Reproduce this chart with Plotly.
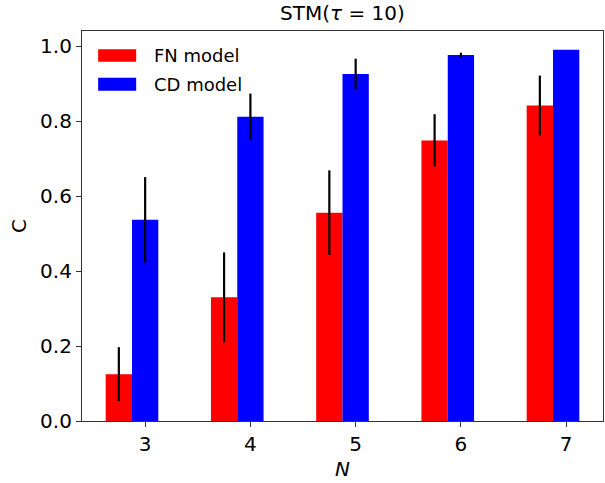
import plotly.graph_objects as go

N = [3, 4, 5, 6, 7]
fn_mean = [0.125, 0.330, 0.556, 0.749, 0.842]
fn_err = [0.072, 0.120, 0.113, 0.070, 0.080]
cd_mean = [0.537, 0.812, 0.926, 0.977, 0.991]
cd_err = [0.114, 0.062, 0.041, 0.006, 0.0]
series_names = ["FN model", "CD model"]
series_colors = ["#ff0000", "#0000ff"]

FONT = "DejaVu Sans"

fig = go.Figure()
fig.add_trace(go.Bar(
    x=N, y=fn_mean, name=series_names[0], marker=dict(color=series_colors[0], line=dict(width=0)),
    width=0.25, offset=-0.375,
    error_y=dict(type="data", array=fn_err, color="black", thickness=2.2, width=0),
))
fig.add_trace(go.Bar(
    x=N, y=cd_mean, name=series_names[1], marker=dict(color=series_colors[1], line=dict(width=0)),
    width=0.25, offset=-0.125,
    error_y=dict(type="data", array=cd_err, color="black", thickness=2.2, width=0),
))

axis_common = dict(
    showline=True, linecolor="#333333", linewidth=1.2, mirror=True,
    ticks="outside", ticklen=5, tickcolor="#333333", tickwidth=1.2,
    showgrid=False, zeroline=False,
    tickfont=dict(family=FONT, size=20, color="black"),
)

# custom matplotlib-like legend (wide patches)
leg_rows = [(0.953, 0.921), (0.880, 0.847)]
for (y1, y0), name, col in zip(leg_rows, series_names, series_colors):
    fig.add_shape(type="rect", xref="paper", yref="paper", x0=0.031, x1=0.104, y0=y0, y1=y1,
                  fillcolor=col, line=dict(width=0))
    fig.add_annotation(xref="paper", yref="paper", x=0.134, y=(y0 + y1) / 2, text=name,
                       showarrow=False, xanchor="left", yanchor="middle",
                       font=dict(family=FONT, size=18, color="black"))

fig.update_layout(
    width=605, height=483,
    margin=dict(l=82, r=2, t=31, b=62),
    plot_bgcolor="white", paper_bgcolor="white",
    font=dict(family=FONT, color="black"),
    title=dict(text="STM(<i>τ</i> = 10)", x=0.566, xanchor="center", y=0.974, yanchor="middle",
               font=dict(family=FONT, size=20, color="black")),
    xaxis=dict(range=[2.4, 7.35], tickvals=N, ticktext=[str(n) for n in N],
               title=dict(text="<i>N</i>", font=dict(family=FONT, size=20), standoff=6),
               **axis_common),
    yaxis=dict(range=[0, 1.041], tickvals=[0, 0.2, 0.4, 0.6, 0.8, 1.0],
               ticktext=["0.0", "0.2", "0.4", "0.6", "0.8", "1.0"],
               title=dict(text="C", font=dict(family=FONT, size=20), standoff=8),
               **axis_common),
    showlegend=False,
)

fig.write_html("out.html")
